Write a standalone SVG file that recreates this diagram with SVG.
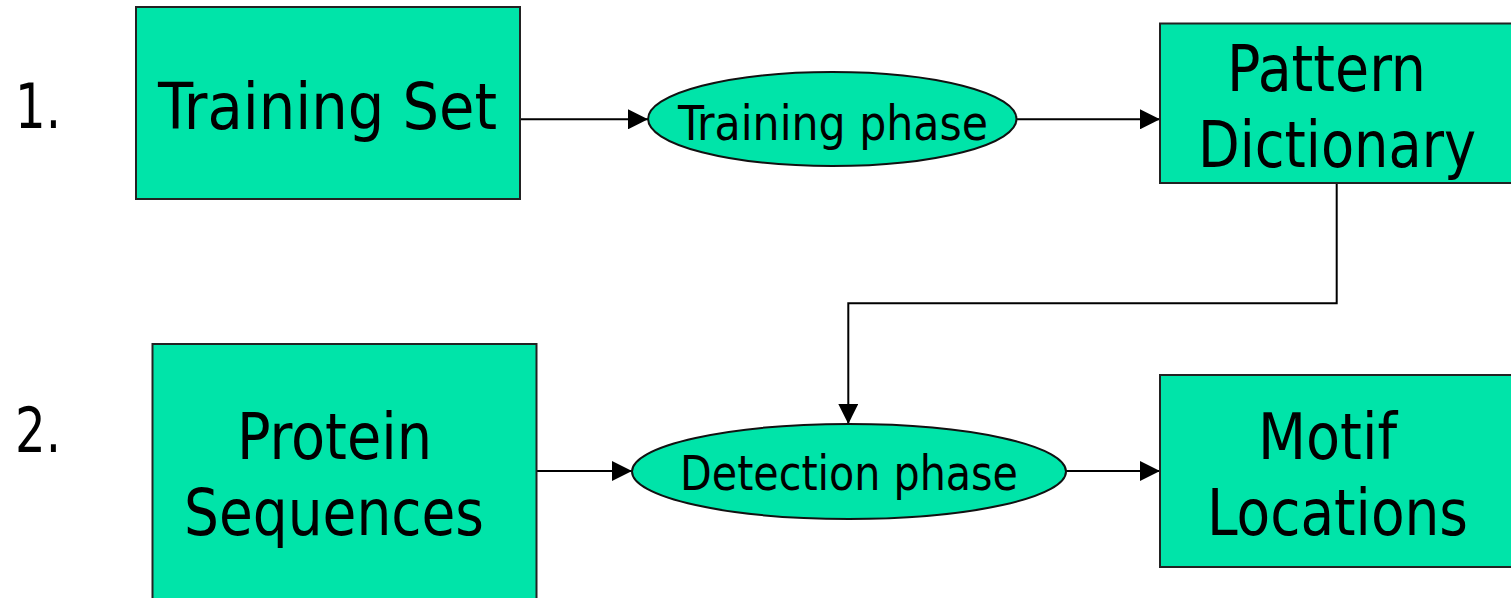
<svg xmlns="http://www.w3.org/2000/svg" width="1511" height="598" viewBox="0 0 1511 598">
  <style>
    .box { fill: #00E4A9; stroke: #222; stroke-width: 2; }
    .phase { fill: #00E4A9; stroke: #111; stroke-width: 2; }
    .big { font-family: "DejaVu Sans Condensed", "DejaVu Sans", sans-serif; font-size: 64px; fill: #000; }
    .small { font-family: "DejaVu Sans Condensed", "DejaVu Sans", sans-serif; font-size: 48px; fill: #000; }
    .step { font-family: "DejaVu Sans Condensed", "DejaVu Sans", sans-serif; font-size: 62px; fill: #000; }
    .link { fill: none; stroke: #000; stroke-width: 2; }
  </style>
  <defs>
    <marker id="arrow" viewBox="0 0 20 20" refX="20" refY="10" markerWidth="20" markerHeight="20" markerUnits="userSpaceOnUse" orient="auto">
      <path d="M0,0 L20,10 L0,20 Z" fill="#000"/>
    </marker>
  </defs>

  <rect width="1511" height="598" fill="#fff"/>

  <!-- step numbers -->
  <text class="step" x="15" y="128" textLength="46" lengthAdjust="spacingAndGlyphs">1.</text>
  <text class="step" x="15" y="452" textLength="46" lengthAdjust="spacingAndGlyphs">2.</text>

  <g id="connectors">
    <line class="link" x1="520" y1="119.3" x2="648" y2="119.3" marker-end="url(#arrow)"/>
    <line class="link" x1="1016.5" y1="119.3" x2="1160" y2="119.3" marker-end="url(#arrow)"/>
    <polyline class="link" points="1336.7,183 1336.7,303.3 848.3,303.3 848.3,424" marker-end="url(#arrow)"/>
    <line class="link" x1="536" y1="471" x2="632" y2="471" marker-end="url(#arrow)"/>
    <line class="link" x1="1066" y1="471" x2="1160" y2="471" marker-end="url(#arrow)"/>
  </g>

  <g id="training-set">
    <rect class="box" x="136" y="7" width="384" height="192"/>
    <text class="big" x="158" y="128.5" textLength="339" lengthAdjust="spacingAndGlyphs">Training Set</text>
  </g>

  <g id="training-phase">
    <ellipse class="phase" cx="832.3" cy="119" rx="184.2" ry="47"/>
    <text class="small" x="678" y="140" textLength="310" lengthAdjust="spacingAndGlyphs">Training phase</text>
  </g>

  <g id="pattern-dictionary">
    <rect class="box" x="1160" y="23.5" width="360" height="159.5"/>
    <text class="big" x="1227" y="90.5" textLength="199" lengthAdjust="spacingAndGlyphs">Pattern</text>
    <text class="big" x="1198" y="166.7" textLength="278" lengthAdjust="spacingAndGlyphs">Dictionary</text>
  </g>

  <g id="protein-sequences">
    <rect class="box" x="152.5" y="344" width="384" height="270"/>
    <text class="big" x="237" y="459" textLength="195" lengthAdjust="spacingAndGlyphs">Protein</text>
    <text class="big" x="184" y="534.5" textLength="300" lengthAdjust="spacingAndGlyphs">Sequences</text>
  </g>

  <g id="detection-phase">
    <ellipse class="phase" cx="849" cy="471.5" rx="217" ry="47.5"/>
    <text class="small" x="680" y="490" textLength="338" lengthAdjust="spacingAndGlyphs">Detection phase</text>
  </g>

  <g id="motif-locations">
    <rect class="box" x="1160" y="375" width="360" height="192"/>
    <text class="big" x="1258" y="459" textLength="139" lengthAdjust="spacingAndGlyphs">Motif</text>
    <text class="big" x="1207" y="535" textLength="261" lengthAdjust="spacingAndGlyphs">Locations</text>
  </g>
</svg>
